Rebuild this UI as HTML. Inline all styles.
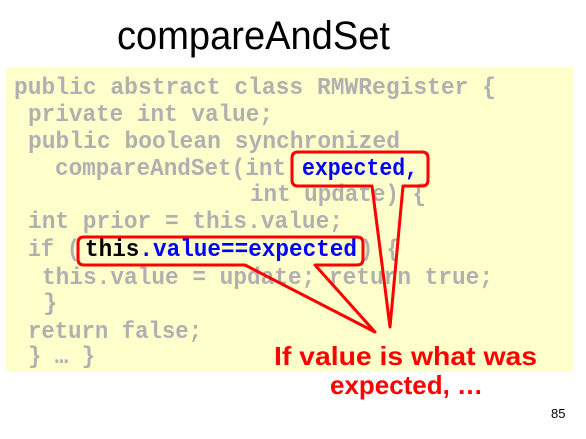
<!DOCTYPE html>
<html><head><meta charset="utf-8"><style>
html,body{margin:0;padding:0;background:#fff;width:586px;height:439px;overflow:hidden}
svg{display:block}
.c{font-family:"Liberation Mono",monospace;font-weight:bold;font-size:24px;fill:#b0b0b0}
</style></head><body>
<svg width="586" height="439" viewBox="0 0 586 439" xmlns="http://www.w3.org/2000/svg">
<text x="117" y="49" font-family="Liberation Sans, sans-serif" font-size="40" textLength="273" lengthAdjust="spacingAndGlyphs" fill="#000">compareAndSet</text>
<rect x="6" y="67" width="567" height="305" fill="#ffffcc"/>
<g class="c" xml:space="preserve">
<text x="14" y="94" textLength="482" lengthAdjust="spacingAndGlyphs">public abstract class RMWRegister {</text>
<text x="28" y="121" textLength="245" lengthAdjust="spacingAndGlyphs">private int value;</text>
<text x="28" y="148" textLength="372" lengthAdjust="spacingAndGlyphs">public boolean synchronized</text>
<text x="55" y="175" textLength="231" lengthAdjust="spacingAndGlyphs">compareAndSet(int</text>
<text x="302" y="175" style="fill:#0000ff" textLength="116" lengthAdjust="spacingAndGlyphs">expected,</text>
<text x="250" y="201" textLength="176" lengthAdjust="spacingAndGlyphs">int update) {</text>
<text x="28" y="228" textLength="315" lengthAdjust="spacingAndGlyphs">int prior = this.value;</text>
<text x="28" y="256" textLength="52" lengthAdjust="spacingAndGlyphs">if (</text>
<text x="85" y="256" textLength="272" lengthAdjust="spacingAndGlyphs"><tspan style="fill:#000">this</tspan><tspan style="fill:#0000ff">.value==expected</tspan></text>
<text x="360" y="256" textLength="40" lengthAdjust="spacingAndGlyphs">) {</text>
<text x="42" y="284" textLength="451" lengthAdjust="spacingAndGlyphs">this.value = update; return true;</text>
<text x="43" y="310">}</text>
<text x="28" y="338" textLength="174" lengthAdjust="spacingAndGlyphs">return false;</text>
<text x="28" y="363" textLength="67" lengthAdjust="spacingAndGlyphs">} … }</text>
</g>
<g fill="none" stroke="#ff0000" stroke-width="3" stroke-linejoin="round">
<path d="M298,152 H422 Q428,152 428,158 V180 Q428,186 422,186 H403 L390,327 L372,186 H298 Q292,186 292,180 V158 Q292,152 298,152 Z"/>
<path d="M84,237 H357 Q363,237 363,243 V259 Q363,265 357,265 H315 L375,332 L245,265 H84 Q78,265 78,259 V243 Q78,237 84,237 Z"/>
</g>
<g font-family="Liberation Sans, sans-serif" font-weight="bold" font-size="26" fill="#ff0000">
<text x="274" y="365" textLength="263" lengthAdjust="spacingAndGlyphs">If value is what was</text>
<text x="330" y="394" textLength="153" lengthAdjust="spacingAndGlyphs">expected, …</text>
</g>
<text x="551" y="418" font-family="Liberation Sans, sans-serif" font-size="13" fill="#000">85</text>
</svg>
</body></html>
